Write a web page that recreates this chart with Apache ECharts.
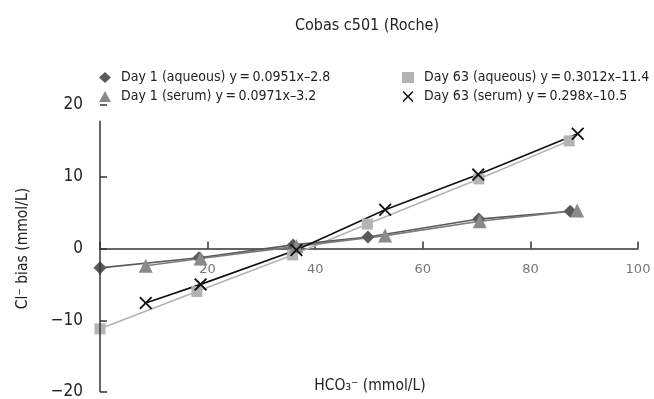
<!DOCTYPE html>
<html>
<head>
<meta charset="utf-8">
<script src="https://cdn.jsdelivr.net/npm/echarts@6/dist/echarts.min.js"></script>
<style>
  html, body { margin: 0; padding: 0; background: #fff; }
  #chart { width: 654px; height: 399px; }
</style>
</head>
<body>
<div id="chart"></div>
<script>
// values (HCO3- in mmol/L, Cl- bias in mmol/L)
const seriesNames = [
  "Day 1 (aqueous) y\u2009=\u20090.0951x\u20132.8",
  "Day 63 (aqueous) y\u2009=\u20090.3012x\u201311.4",
  "Day 1 (serum) y\u2009=\u20090.0971x\u20133.2",
  "Day 63 (serum) y\u2009=\u20090.298x\u201310.5"
];
const xDay1Aq = [0, 18.4, 35.9, 49.8, 70.4, 87.4];
const yDay1Aq = [-2.7, -1.3, 0.5, 1.6, 4.1, 5.2];
const xDay63Aq = [0, 18, 35.8, 49.7, 70.4, 87.2];
const yDay63Aq = [-11.2, -6, -0.9, 3.4, 9.7, 15];
const xDay1Se = [8.5, 18.7, 36.5, 53, 70.6, 88.7];
const yDay1Se = [-2.4, -1.4, 0.3, 1.8, 3.8, 5.3];
const xDay63Se = [8.5, 18.7, 36.5, 53, 70.3, 88.8];
const yDay63Se = [-7.6, -5, -0.2, 5.4, 10.3, 16];
// the drawn y axis line stops a little below the top label
const yAxisLineRange = [-20, 17.8];

const FONT = '"Liberation Sans Narrow", "DejaVu Sans Condensed", "Roboto", sans-serif';
const crossPath = "path://M0,1L1,0L5,4L9,0L10,1L6,5L10,9L9,10L5,6L1,10L0,9L4,5Z";

const chart = echarts.init(document.getElementById("chart"), null, { renderer: "canvas" });

const pairs = (xs, ys) => xs.map((x, i) => [x, ys[i]]);

const makeSeries = (name, data, symbol, size, color, lineColor) => ({
  name: name,
  type: "line",
  data: data,
  symbol: symbol,
  symbolSize: size,
  showSymbol: true,
  animation: false,
  itemStyle: { color: color },
  lineStyle: { color: lineColor, width: 1.6 }
});

const legendText = { fontFamily: FONT, fontSize: 14, color: "#222", lineHeight: 16, padding: [0, 0, 0, 5] };

const series = [
  makeSeries(seriesNames[1], pairs(xDay63Aq, yDay63Aq), "rect", 11, "#b3b3b3", "#b3b3b3"),
  makeSeries(seriesNames[0], pairs(xDay1Aq, yDay1Aq), "diamond", 13, "#5a5a5a", "#5a5a5a"),
  makeSeries(seriesNames[2], pairs(xDay1Se, yDay1Se), "triangle", 14, "#8a8a8a", "#7a7a7a"),
  makeSeries(seriesNames[3], pairs(xDay63Se, yDay63Se), crossPath, 13, "#111", "#111")
];

// y axis line drawn through the axis scale
series[0].markLine = {
  silent: true,
  animation: false,
  symbol: ["none", "none"],
  label: { show: false },
  lineStyle: { color: "#333", width: 1.5, type: "solid" },
  data: [[{ coord: [0, yAxisLineRange[0]] }, { coord: [0, yAxisLineRange[1]] }]]
};

const option = {
  backgroundColor: "#fff",
  title: {
    text: "Cobas c501 (Roche)",
    left: 362,
    top: 13,
    textAlign: "center",
    textStyle: { fontFamily: FONT, fontSize: 16, fontWeight: "normal", color: "#222" }
  },
  legend: [
    {
      orient: "vertical",
      left: 99,
      top: 69.5,
      padding: 0,
      itemGap: 3,
      itemWidth: 12,
      itemHeight: 11,
      data: [
        { name: seriesNames[0], icon: "diamond" },
        { name: seriesNames[2], icon: "triangle" }
      ],
      textStyle: legendText
    },
    {
      orient: "vertical",
      left: 402,
      top: 69.5,
      padding: 0,
      itemGap: 3,
      itemWidth: 12,
      itemHeight: 11,
      data: [
        { name: seriesNames[1], icon: "rect" },
        { name: seriesNames[3], icon: crossPath }
      ],
      textStyle: legendText
    }
  ],
  grid: { left: 100, right: 16, top: 105, bottom: 7, outerBoundsMode: "none" },
  xAxis: {
    type: "value",
    min: 0,
    max: 100,
    interval: 20,
    offset: -143.5,
    axisLine: { onZero: false, lineStyle: { color: "#333", width: 1.5 } },
    axisTick: { show: true, inside: true, length: 7, lineStyle: { color: "#333", width: 1.5 } },
    axisLabel: { margin: 15, fontFamily: "DejaVu Sans", fontSize: 13, color: "#777" },
    splitLine: { show: false }
  },
  yAxis: {
    type: "value",
    min: -20,
    max: 20,
    interval: 10,
    name: "Cl\u207B bias (mmol/L)",
    nameLocation: "middle",
    nameRotate: 90,
    nameGap: 69,
    nameTextStyle: { fontFamily: FONT, fontSize: 15.5, color: "#222" },
    axisLine: { show: false },
    axisTick: { show: true, inside: true, length: 7, lineStyle: { color: "#333", width: 1.5 } },
    axisLabel: {
      margin: 17,
      fontFamily: FONT,
      fontSize: 17,
      color: "#222",
      formatter: (v) => String(v).replace("-", "\u2212")
    },
    splitLine: { show: false }
  },
  graphic: [
    {
      type: "text",
      x: 370,
      y: 386,
      style: {
        text: "HCO\u2083\u207B (mmol/L)",
        font: "15.5px " + FONT,
        fill: "#222",
        align: "center",
        verticalAlign: "middle"
      }
    }
  ],
  series: series
};

chart.setOption(option);
</script>
</body>
</html>
